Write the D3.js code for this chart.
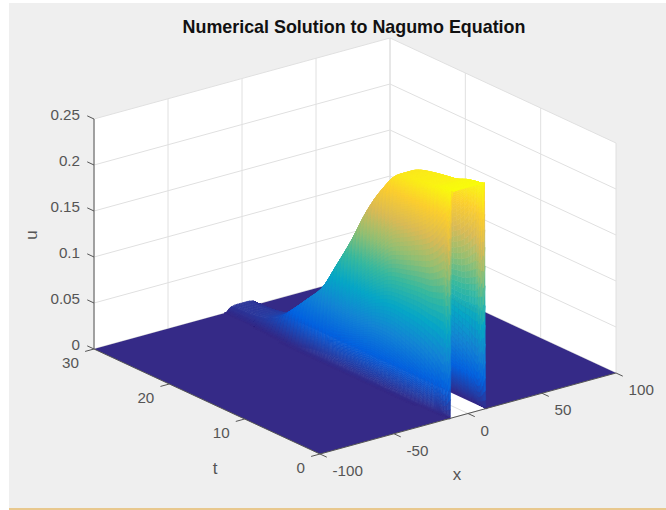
<!DOCTYPE html>
<html>
<head>
<meta charset="utf-8">
<script src="https://cdn.jsdelivr.net/npm/d3@7"></script>
<style>
  html, body { margin: 0; padding: 0; background: #fff; }
  svg { display: block; font-family: "Liberation Sans", Arial, sans-serif; }
</style>
</head>
<body>
<div id="chart"></div>
<script>
const title = 'Numerical Solution to Nagumo Equation';

const xTicks = [-100, -50, 0, 50, 100];
const tTicks = [0, 10, 20, 30];
const uTicks = [0, 0.05, 0.1, 0.15, 0.2, 0.25];

// profile is symmetric about x = 0, so only |x| is listed
const xAbs = [0, 4, 7, 9, 10, 11, 12, 13, 14, 16, 18, 24];
const tValues = [0, 1, 2, 3, 4, 6, 8, 10, 12, 14, 16, 18, 20, 22, 24, 26, 28, 30];

// one row per entry of tValues, one column per entry of xAbs (u is 0 beyond |x| = 24)
const uValues = [
  [0.246, 0.246, 0.246, 0.246, 0.246, 0.246, 0, 0, 0, 0, 0, 0],
  [0.245, 0.245, 0.245, 0.245, 0.243, 0.125, 0.002, 0, 0, 0, 0, 0],
  [0.243, 0.243, 0.243, 0.243, 0.228, 0.122, 0.015, 0.001, 0, 0, 0, 0],
  [0.24, 0.24, 0.24, 0.239, 0.216, 0.12, 0.024, 0.001, 0, 0, 0, 0],
  [0.239, 0.239, 0.239, 0.236, 0.208, 0.12, 0.031, 0.003, 0, 0, 0, 0],
  [0.236, 0.236, 0.236, 0.229, 0.196, 0.118, 0.04, 0.007, 0.001, 0, 0, 0],
  [0.232, 0.232, 0.231, 0.221, 0.185, 0.115, 0.047, 0.011, 0.001, 0, 0, 0],
  [0.21, 0.21, 0.209, 0.195, 0.161, 0.104, 0.049, 0.015, 0.003, 0, 0, 0],
  [0.178, 0.178, 0.178, 0.164, 0.135, 0.089, 0.043, 0.014, 0.003, 0, 0, 0],
  [0.14, 0.14, 0.139, 0.128, 0.105, 0.07, 0.035, 0.012, 0.003, 0, 0, 0],
  [0.105, 0.105, 0.104, 0.095, 0.078, 0.053, 0.027, 0.01, 0.003, 0, 0, 0],
  [0.072, 0.072, 0.071, 0.062, 0.05, 0.033, 0.016, 0.007, 0.002, 0, 0, 0],
  [0.052, 0.052, 0.051, 0.042, 0.032, 0.02, 0.01, 0.003, 0.001, 0, 0, 0],
  [0.033, 0.033, 0.032, 0.024, 0.016, 0.008, 0.003, 0.001, 0, 0, 0, 0],
  [0.017, 0.017, 0.015, 0.01, 0.006, 0.003, 0.001, 0, 0, 0, 0, 0],
  [0.009, 0.009, 0.008, 0.005, 0.003, 0.001, 0, 0, 0, 0, 0, 0],
  [0.0065, 0.0065, 0.0055, 0.003, 0.002, 0.001, 0, 0, 0, 0, 0, 0],
  [0.006, 0.006, 0.005, 0.003, 0.001, 0, 0, 0, 0, 0, 0, 0]
];

// parula stops
const parula = ['#352a87', '#0363e1', '#1485d4', '#06a7c6', '#38b99e', '#92bf73', '#d9ba56', '#fcce2e', '#f9fb0e'];

const width = 666;
const height = 510;

const svg = d3.select('#chart').append('svg')
  .attr('width', width)
  .attr('height', height);

svg.append('rect')
  .attr('x', 9).attr('y', 3)
  .attr('width', width - 9).attr('height', 505)
  .attr('fill', '#efefef');
svg.append('rect')
  .attr('x', 9).attr('y', 508)
  .attr('width', width - 9).attr('height', 2)
  .attr('fill', '#e8c88e');

const g = svg.append('g').style('filter', 'blur(0.5px)');

// oblique axis vectors in pixels
const xPx = d3.scaleLinear().domain([-100, 100]).range([0, 1]);
const tPx = d3.scaleLinear().domain([0, 30]).range([0, 1]);
const uPx = d3.scaleLinear().domain([0, 0.25]).range([0, 230]);

const origin = [320, 454];
const xVec = [296, -81];
const tVec = [-226, -105];

function project(x, t, u) {
  const a = xPx(x);
  const b = tPx(t);
  return [
    origin[0] + a * xVec[0] + b * tVec[0],
    origin[1] + a * xVec[1] + b * tVec[1] - uPx(u)
  ];
}

const color = d3.scaleLinear()
  .domain(parula.map((d, i) => 0.246 * i / (parula.length - 1)))
  .range(parula)
  .clamp(true);

const line = d3.line();
const poly = (pts) => line(pts) + 'Z';

// walls
const walls = g.append('g');
walls.append('path')
  .attr('d', poly([project(-100, 0, 0), project(100, 0, 0), project(100, 30, 0), project(-100, 30, 0)]))
  .attr('fill', '#fff');
walls.append('path')
  .attr('d', poly([project(-100, 30, 0), project(100, 30, 0), project(100, 30, 0.25), project(-100, 30, 0.25)]))
  .attr('fill', '#fff');
walls.append('path')
  .attr('d', poly([project(100, 30, 0), project(100, 0, 0), project(100, 0, 0.25), project(100, 30, 0.25)]))
  .attr('fill', '#fff');

const gridColor = '#e0e0e0';
function seg(parent, a, b, col, w) {
  parent.append('path')
    .attr('d', line([a, b]))
    .attr('fill', 'none')
    .attr('stroke', col)
    .attr('stroke-width', w);
}

uTicks.forEach((u) => {
  seg(walls, project(-100, 30, u), project(100, 30, u), gridColor, 1);
  seg(walls, project(100, 30, u), project(100, 0, u), gridColor, 1);
});
xTicks.forEach((x) => {
  seg(walls, project(x, 30, 0), project(x, 30, 0.25), gridColor, 1);
  seg(walls, project(x, 0, 0), project(x, 30, 0), gridColor, 1);
});
tTicks.forEach((t) => {
  seg(walls, project(100, t, 0), project(100, t, 0.25), gridColor, 1);
  seg(walls, project(-100, t, 0), project(100, t, 0), gridColor, 1);
});

// smooth shading between table entries (monotone cubic, like interp shading)
function smoother(xs, ys) {
  const n = xs.length;
  const s = d3.range(n - 1).map((i) => (ys[i + 1] - ys[i]) / (xs[i + 1] - xs[i]));
  const m = d3.range(n).map((i) => {
    if (i === 0) return s[0];
    if (i === n - 1) return s[n - 2];
    return s[i - 1] * s[i] <= 0 ? 0 : 2 * s[i - 1] * s[i] / (s[i - 1] + s[i]);
  });
  return (v) => {
    const i = Math.min(d3.bisectRight(xs, v) - 1, n - 2);
    const h = xs[i + 1] - xs[i];
    const f = (v - xs[i]) / h;
    const f2 = f * f;
    const f3 = f2 * f;
    return (2 * f3 - 3 * f2 + 1) * ys[i] + (f3 - 2 * f2 + f) * h * m[i]
      + (3 * f2 - 2 * f3) * ys[i + 1] + (f3 - f2) * h * m[i + 1];
  };
}

function refine(values, stepAt) {
  const out = [];
  values.slice(1).forEach((v, i) => {
    const n = Math.ceil((v - values[i]) / stepAt(values[i]));
    d3.range(n).forEach((k) => out.push(values[i] + (v - values[i]) * k / n));
  });
  out.push(values[values.length - 1]);
  return out;
}

// fine steps where the surface is steep, so no cell spans a wide colour range
const tFine = refine(tValues, (t) => (t < 2 ? 0.2 : 0.5));
const xFinePos = refine(xAbs, (x) => {
  if (x >= 9 && x < 13) return 0.06;
  if (x >= 7 && x < 16) return 0.15;
  return 1;
});
const xFine = xFinePos.slice(1).reverse().map((d) => -d).concat(xFinePos);

const columns = xAbs.map((_, j) => smoother(tValues, uValues.map((row) => row[j])));
const grid = tFine.map((t) => {
  const across = smoother(xAbs, columns.map((c) => Math.max(0, c(t))));
  return xFine.map((x) => Math.max(0, across(Math.abs(x))));
});

// surface: flat floor first, then the ridge, far cells first
const surface = g.append('g');
[[-100, -12], [12, 100]].forEach((r) => {
  surface.append('path')
    .attr('d', poly([project(r[0], 0, 0), project(r[1], 0, 0), project(r[1], 30, 0), project(r[0], 30, 0)]))
    .attr('fill', parula[0]);
});

for (let i = tFine.length - 2; i >= 0; i--) {
  for (let j = xFine.length - 2; j >= 0; j--) {
    const c = [[j, i], [j + 1, i], [j + 1, i + 1], [j, i + 1]];
    const top = d3.max(c, (d) => grid[d[1]][d[0]]);
    if (top === 0 && Math.abs(xFine[j]) >= 12) continue;
    const fill = color(d3.mean(c, (d) => grid[d[1]][d[0]]));
    surface.append('path')
      .attr('d', poly(c.map((d) => project(xFine[d[0]], tFine[d[1]], grid[d[1]][d[0]]))))
      .attr('fill', fill)
      .attr('stroke', fill)
      .attr('stroke-width', 0.6);
  }
}

// axis lines and ticks
const axisColor = '#555';
const axes = g.append('g');
seg(axes, project(-100, 30, 0), project(-100, 30, 0.25), axisColor, 1);
seg(axes, project(-100, 30, 0), project(-100, 0, 0), axisColor, 1);
seg(axes, project(-100, 0, 0), project(100, 0, 0), axisColor, 1);

const tickLen = 0.03;
uTicks.forEach((u) => {
  const p = project(-100, 30, u);
  seg(axes, p, [p[0] + tVec[0] * tickLen, p[1] + tVec[1] * tickLen], axisColor, 1);
});
xTicks.forEach((x) => {
  const p = project(x, 0, 0);
  seg(axes, p, [p[0] - tVec[0] * tickLen, p[1] - tVec[1] * tickLen], axisColor, 1);
});
tTicks.forEach((t) => {
  const p = project(-100, t, 0);
  seg(axes, p, [p[0] - xVec[0] * tickLen, p[1] - xVec[1] * tickLen], axisColor, 1);
});

// labels
const textColor = '#555';
function label(txt, px, py, anchor, size) {
  return svg.append('text')
    .attr('x', px).attr('y', py)
    .attr('text-anchor', anchor || 'middle')
    .attr('dominant-baseline', 'middle')
    .attr('font-size', size || 15.2)
    .attr('fill', textColor)
    .text(txt);
}

uTicks.forEach((u) => {
  const p = project(-100, 30, u);
  label(String(u), 80, p[1] - 3, 'end');
});
xTicks.forEach((x) => {
  const p = project(x, 0, 0);
  label(String(x), p[0] + 12.5, p[1] + 18, 'start');
});
tTicks.forEach((t) => {
  const p = project(-100, t, 0);
  label(String(t), p[0] - 15, p[1] + 15, 'end');
});

label('x', 457, 476, 'middle', 17);
label('t', 215, 470, 'middle', 17);
label('u', 0, 0, 'middle', 17)
  .attr('x', null).attr('y', null)
  .attr('transform', 'translate(33,235) rotate(-90)');

svg.append('text')
  .attr('x', 354).attr('y', 28)
  .attr('text-anchor', 'middle')
  .attr('dominant-baseline', 'middle')
  .attr('font-size', 17.9)
  .attr('font-weight', 'bold')
  .attr('fill', '#111')
  .text(title);
</script>
</body>
</html>
